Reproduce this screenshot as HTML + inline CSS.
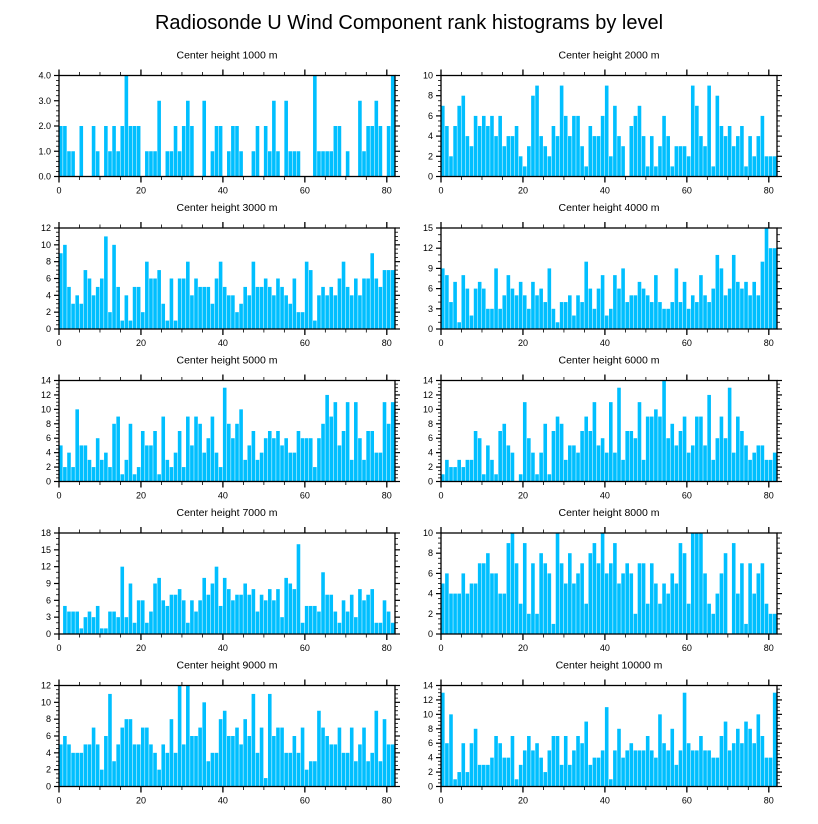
<!DOCTYPE html>
<html><head><meta charset="utf-8"><style>
html,body{margin:0;padding:0;background:#fff;}
svg{display:block;font-family:"Liberation Sans",sans-serif;}
</style></head><body>
<svg id="chart" width="818" height="824" viewBox="0 0 818 824">
<text x="409" y="29" text-anchor="middle" font-size="20">Radiosonde U Wind Component rank histograms by level</text>
</svg>
<script>
const panelTitles = ["Center height 1000 m","Center height 2000 m","Center height 3000 m","Center height 4000 m","Center height 5000 m","Center height 6000 m","Center height 7000 m","Center height 8000 m","Center height 9000 m","Center height 10000 m"];
const yMaxes = [4,10,12,15,14,14,18,10,12,14];
const yStepsMajor = [1,2,2,3,2,2,3,2,2,2];
const xTicks = [0,20,40,60,80];
const h1000 = [2,2,1,1,0,2,0,0,2,1,0,2,1,2,1,2,4,2,2,2,0,1,1,1,3,0,1,1,2,1,2,3,2,0,0,3,0,1,2,2,0,1,2,2,1,0,0,1,2,0,2,1,3,1,0,3,1,1,1,0,0,0,4,1,1,1,1,2,2,0,1,0,0,3,1,2,2,3,2,0,2,4];
const h2000 = [7,5,2,5,7,8,4,3,6,5,6,5,6,4,6,3,4,4,5,2,1,3,8,9,4,3,2,5,4,9,6,4,6,6,3,1,5,4,4,6,9,2,7,4,3,0,5,6,7,4,1,4,1,3,6,4,1,3,3,3,2,9,7,4,3,9,1,8,5,4,5,3,4,5,1,4,2,4,6,2,2,2];
const h3000 = [9,10,5,3,4,3,7,6,4,5,6,11,2,10,5,1,4,1,5,5,2,8,6,6,7,3,1,6,1,6,6,8,4,6,5,5,5,3,6,8,5,4,4,2,3,5,4,8,5,5,6,5,4,6,5,4,3,6,2,2,8,7,1,4,5,4,5,4,6,8,5,4,6,4,6,6,9,6,5,7,7,7];
const h4000 = [9,8,4,7,1,8,6,2,6,7,6,3,3,9,3,5,8,6,5,7,5,3,7,5,6,4,9,3,1,4,4,5,2,5,4,10,6,3,6,8,2,3,8,6,9,4,5,5,7,6,5,4,8,4,3,3,4,9,4,7,3,5,4,8,5,4,6,11,9,5,6,11,7,6,7,5,7,5,10,15,12,12];
const h5000 = [5,2,4,2,10,5,5,3,2,6,3,4,2,8,9,1,3,8,1,2,7,5,5,7,1,9,3,2,4,7,2,9,5,9,8,4,6,9,4,2,13,8,6,8,10,3,5,7,3,4,6,7,6,7,5,6,4,4,7,6,6,6,2,6,8,12,9,11,5,7,11,3,11,6,3,7,7,4,4,11,8,11];
const h6000 = [1,3,2,2,3,2,3,3,7,6,1,5,3,1,7,8,5,4,0,1,11,6,4,1,4,8,1,7,9,8,3,5,5,4,7,9,7,11,5,6,4,11,4,13,3,7,7,6,11,3,9,9,10,9,14,6,8,5,7,9,4,5,9,9,5,12,3,6,9,6,13,4,9,7,5,3,4,5,5,3,3,4];
const h7000 = [0,5,4,4,4,1,3,4,3,5,1,1,4,4,3,12,3,9,2,6,6,2,4,9,10,6,5,7,7,8,6,2,6,4,6,10,7,9,12,5,10,8,6,7,7,9,7,8,4,7,6,8,6,8,3,10,9,8,16,2,5,5,5,4,11,7,7,4,2,6,4,7,3,8,6,7,8,2,2,6,4,2];
const h8000 = [5,6,4,4,4,6,4,5,5,7,7,8,6,6,4,4,9,10,7,3,9,2,7,2,8,7,6,1,10,7,5,8,5,6,7,3,8,9,7,10,6,7,9,5,6,7,6,2,7,7,3,7,5,3,5,4,6,5,9,8,3,10,10,10,6,3,2,4,6,8,0,9,4,7,1,7,4,6,7,3,2,2];
const h9000 = [5,6,5,4,4,4,5,5,7,5,2,6,11,3,5,7,8,8,5,5,7,7,5,4,2,5,4,8,4,12,5,12,6,6,7,10,3,4,4,8,9,6,6,7,5,8,6,11,4,7,1,11,6,7,7,4,4,6,4,7,2,3,3,9,7,6,5,5,7,4,4,7,3,5,7,3,4,9,3,8,5,5];
const h10000 = [13,6,10,1,2,6,2,6,8,3,3,3,4,7,6,4,4,7,1,3,5,7,5,6,4,2,5,7,7,3,7,3,5,7,6,9,3,4,4,5,11,1,5,8,4,5,6,5,5,5,7,5,4,10,6,5,8,3,5,13,6,5,5,7,5,5,4,4,7,9,5,6,8,6,9,8,6,10,7,4,4,13];
const seriesList = [h1000,h2000,h3000,h4000,h5000,h6000,h7000,h8000,h9000,h10000];

const NS = "http://www.w3.org/2000/svg";
const svg = document.getElementById('chart');
function mk(tag, attrs, parent){ const e=document.createElementNS(NS,tag); for(const k in attrs) e.setAttribute(k,attrs[k]); parent.appendChild(e); return e; }

const colX = [59, 441], plotW = 336, plotH = 101;
const rowY = [75.5, 228, 380.5, 533, 685.5];
const xMax = 82;

for (let p=0; p<10; p++){
  const col = p%2, row = Math.floor(p/2);
  const X0 = colX[col], Y0 = rowY[row];
  const ymax = yMaxes[p], step = yStepsMajor[p];
  const data = seriesList[p];
  const xs = v => X0 + v/xMax*plotW;
  const ys = v => Y0 + plotH - v/ymax*plotH;
  const g = mk('g',{},svg);
  
  
  const t = mk('text',{x:X0+plotW/2,y:Y0-17,'text-anchor':'middle','font-size':'10.5'},g);
  
  
  t.textContent = panelTitles[p];
  for (let i=0;i<data.length;i++){
    if (data[i] <= 0) continue;
    const bx = xs(i), bw = xs(i+1)-xs(i);
    const r = mk('rect',{x:bx,y:ys(data[i]),width:bw-0.5,height:ys(0)-ys(data[i]),fill:'#00bfff'},g);
    
    
  }
  const f = mk('rect',{x:X0,y:Y0,width:plotW,height:plotH,fill:'none',stroke:'#000','stroke-width':'1.3'},g);
  
  
  // x ticks
  for (let v=0; v<=xMax; v+=5){
    const major = v%20===0, L = major?6:3.5;
    mk('line',{x1:xs(v),x2:xs(v),y1:Y0+plotH,y2:Y0+plotH+L,stroke:'#000','stroke-width':major?1.3:0.8},g);
    mk('line',{x1:xs(v),x2:xs(v),y1:Y0,y2:Y0-L,stroke:'#000','stroke-width':major?1.3:0.8},g);
  }
  for (const v of xTicks){
    const tl = mk('text',{x:xs(v),y:Y0+plotH+17,'text-anchor':'middle','font-size':'9'},g);
    
    
    tl.textContent = v;
  }
  // y ticks
  const minor = step/ (step===3?3:(step===1?5:4));
  for (let v=0; v<=ymax+1e-9; v+=minor){
    const isMaj = Math.abs(v/step - Math.round(v/step))<1e-6, L = isMaj?5:3;
    mk('line',{x1:X0-L,x2:X0,y1:ys(v),y2:ys(v),stroke:'#000','stroke-width':isMaj?1.2:0.8},g);
    mk('line',{x1:X0+plotW,x2:X0+plotW+L,y1:ys(v),y2:ys(v),stroke:'#000','stroke-width':isMaj?1.2:0.8},g);
  }
  for (let v=0; v<=ymax+1e-9; v+=step){
    const tl = mk('text',{x:X0-8,y:ys(v)+3,'text-anchor':'end','font-size':'9'},g);
    
    
    tl.textContent = ymax===4 ? v.toFixed(1) : v;
  }
}
</script>
</body></html>
